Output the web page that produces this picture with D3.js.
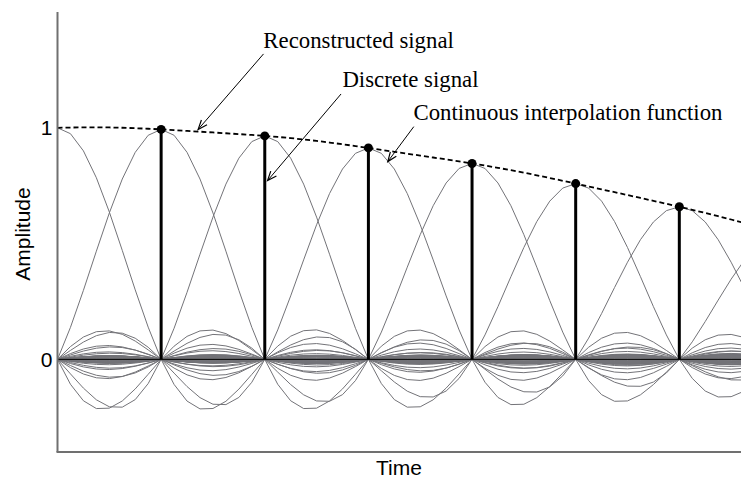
<!DOCTYPE html>
<html>
<head>
<meta charset="utf-8">
<script src="https://cdn.jsdelivr.net/npm/d3@7/dist/d3.min.js"></script>
<style>
  html, body { margin: 0; padding: 0; background: #fff; }
  svg { display: block; }
</style>
</head>
<body>
<svg id="chart" width="741" height="478"></svg>
<script>
// Sample instants (in sample periods) and the sampled amplitudes.
const sampleTimes = [-21, -20, -19, -18, -17, -16, -15, -14, -13, -12, -11, -10, -9, -8, -7, -6, -5, -4, -3, -2, -1,
  0, 1, 2, 3, 4, 5, 6, 7, 8, 9, 10, 11, 12, 13, 14, 15, 16, 17, 18, 19, 20, 21, 22, 23, 24, 25, 26, 27];
const sampleValues = [-0.989, -0.957, -0.906, -0.835, -0.750, -0.649, -0.531, -0.414, -0.285, -0.147, -0.004, 0.140, 0.281, 0.417, 0.544, 0.659, 0.759, 0.846, 0.913, 0.965, 0.993,
  1.000, 0.993, 0.965, 0.913, 0.846, 0.759, 0.659, 0.544, 0.417, 0.281, 0.140, -0.004, -0.147, -0.285, -0.414, -0.531, -0.649, -0.750, -0.835, -0.906, -0.957, -0.989, -1.000, -0.990, -0.961, -0.913, -0.846, -0.759];
// Samples drawn as stems with dots.
const stemTimes = [1, 2, 3, 4, 5, 6];
const yTicks = [0, 1];

// Callouts: text anchor and arrow tail/tip, all in (time, amplitude).
const labelTexts = ["Reconstructed signal", "Discrete signal", "Continuous interpolation function"];
const labelAt = [[1.986, 1.345], [2.749, 1.176], [3.435, 1.034]];
const arrowFrom = [[1.988, 1.319], [2.736, 1.146], [3.438, 1.005]];
const arrowTo = [[1.357, 0.993], [2.027, 0.772], [3.187, 0.854]];

const svg = d3.select("#chart");
const x = d3.scaleLinear().domain([0, 6.6]).range([57.5, 741.5]);
const y = d3.scaleLinear().domain([-0.4, 1.5]).range([452, 12]);

svg.append("defs").append("clipPath").attr("id", "plot")
  .append("rect").attr("x", x(0)).attr("y", y(1.5))
  .attr("width", x(6.6) - x(0)).attr("height", y(-0.4) - y(1.5));

const sinc = t => t === 0 ? 1 : Math.sin(Math.PI * t) / (Math.PI * t);
const step = 1 / 8;
const grid = d3.range(-0.25, 6.85 + 1e-9, step);
const valueOf = t => sampleValues[sampleTimes.indexOf(t)];

const line = d3.line().x(d => x(d[0])).y(d => y(d[1]));
const plot = svg.append("g").attr("clip-path", "url(#plot)");

// One scaled interpolation kernel per sample
plot.append("g").selectAll("path")
  .data(sampleTimes.map((c, i) => grid.map(t => [t, sampleValues[i] * sinc(t - c)])))
  .join("path")
  .attr("d", line)
  .attr("fill", "none")
  .attr("stroke", "#737378")
  .attr("stroke-width", 1);

// Zero line
plot.append("line")
  .attr("x1", x(0)).attr("x2", x(6.6))
  .attr("y1", y(0)).attr("y2", y(0))
  .attr("stroke", "#000").attr("stroke-width", 1);

// Reconstructed signal: sum of all kernels
const recon = grid.map(t => [t, d3.sum(sampleTimes, (c, i) => sampleValues[i] * sinc(t - c))]);
plot.append("path")
  .attr("d", line(recon.filter(d => d[0] >= 0)))
  .attr("fill", "none")
  .attr("stroke", "#000")
  .attr("stroke-width", 1.8)
  .attr("stroke-dasharray", "5,3");

// Stems and dots
plot.append("g").selectAll("line")
  .data(stemTimes)
  .join("line")
  .attr("x1", d => x(d)).attr("x2", d => x(d))
  .attr("y1", y(0)).attr("y2", d => y(valueOf(d)))
  .attr("stroke", "#000").attr("stroke-width", 3);
plot.append("g").selectAll("circle")
  .data(stemTimes)
  .join("circle")
  .attr("cx", d => x(d)).attr("cy", d => y(valueOf(d)))
  .attr("r", 4.5).attr("fill", "#000");

// Axes frame
svg.append("line")
  .attr("x1", x(0)).attr("x2", x(0)).attr("y1", y(1.5)).attr("y2", y(-0.4))
  .attr("stroke", "#707070").attr("stroke-width", 2);
svg.append("line")
  .attr("x1", x(0) - 1).attr("x2", 741).attr("y1", y(-0.4)).attr("y2", y(-0.4))
  .attr("stroke", "#707070").attr("stroke-width", 2);

// Tick labels
svg.append("g").selectAll("text")
  .data(yTicks)
  .join("text")
  .attr("x", x(0) - 5).attr("y", d => y(d))
  .attr("dy", "0.36em")
  .attr("text-anchor", "end")
  .attr("font-family", "Liberation Sans, Arial, sans-serif")
  .attr("font-size", 21)
  .text(d => d);

svg.append("text")
  .attr("transform", `translate(30,${(y(1.5) + y(-0.4)) / 2 + 2}) rotate(-90)`)
  .attr("text-anchor", "middle")
  .attr("font-family", "Liberation Sans, Arial, sans-serif")
  .attr("font-size", 21)
  .text("Amplitude");

svg.append("text")
  .attr("x", 399).attr("y", 475)
  .attr("text-anchor", "middle")
  .attr("font-family", "Liberation Sans, Arial, sans-serif")
  .attr("font-size", 21)
  .text("Time");

// Callout labels and arrows
const notes = svg.append("g");
labelTexts.forEach((txt, i) => {
  notes.append("text")
    .attr("x", x(labelAt[i][0])).attr("y", y(labelAt[i][1]))
    .attr("font-family", "Liberation Serif, Times New Roman, serif")
    .attr("font-size", 22.8)
    .text(txt);
  const x0 = x(arrowFrom[i][0]), y0 = y(arrowFrom[i][1]);
  const x1 = x(arrowTo[i][0]), y1 = y(arrowTo[i][1]);
  notes.append("line")
    .attr("x1", x0).attr("y1", y0).attr("x2", x1).attr("y2", y1)
    .attr("stroke", "#000").attr("stroke-width", 1);
  const ang = Math.atan2(y1 - y0, x1 - x0);
  const len = 10, spread = 0.38;
  const head = [ang + Math.PI - spread, ang + Math.PI + spread]
    .map(a => [x1 + len * Math.cos(a), y1 + len * Math.sin(a)]);
  notes.append("path")
    .attr("d", `M${head[0][0]},${head[0][1]}L${x1},${y1}L${head[1][0]},${head[1][1]}`)
    .attr("fill", "none").attr("stroke", "#000").attr("stroke-width", 1.2);
});
</script>
</body>
</html>
